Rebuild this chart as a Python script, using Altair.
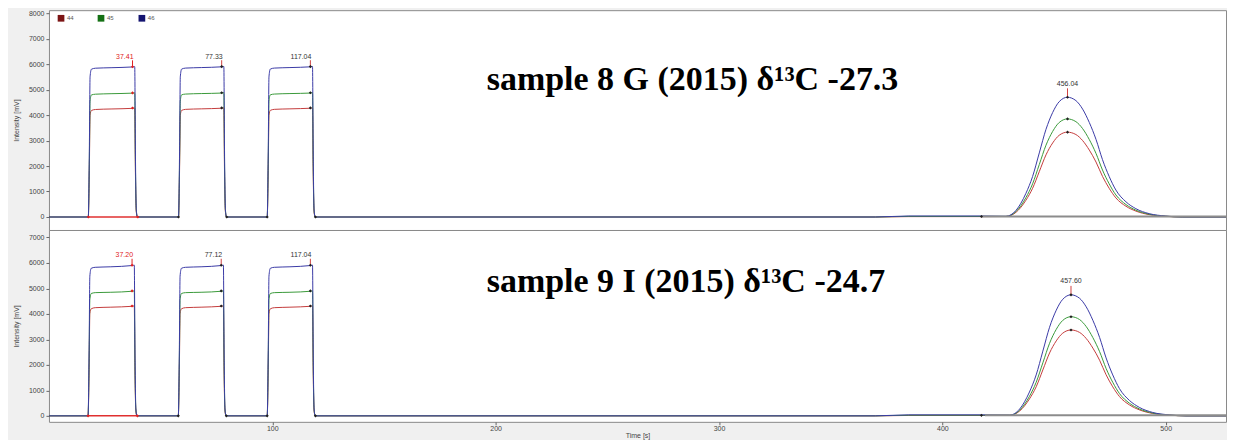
import altair as alt
import pandas as pd

TRACES = ["44", "45", "46"]
LINE_COLORS = ["#c43c3c", "#3a9a3a", "#3a3aa6"]
LEGEND_COLORS = ["#7b1414", "#147014", "#141470"]

# ---------------- top panel: sample 8 G ----------------
top_time = [0.0,
    17.6, 18.1, 18.4, 19.0, 20.8, 27.8, 37.6, 38.4, 38.7, 39.1, 39.6,
    58.0, 58.5, 58.8, 59.4, 61.2, 68.2, 77.5, 78.3, 78.6, 79.0, 79.5,
    97.7, 98.2, 98.5, 99.1, 100.9, 107.9, 117.2, 118.0, 118.3, 118.7, 119.2,
    370.0, 385.0, 417.0,
    428.5, 433.0, 437.4, 440.4, 443.4, 446.4, 449.4, 452.3, 456.0, 459.8, 462.8,
    465.8, 468.8, 471.7, 474.7, 477.7, 482.2, 486.6, 492.6, 500.0, 507.5,
    527.0]
top_44 = [0,
    0, 2000, 4000, 4180, 4220, 4240, 4265, 4280, 1800, 200, 0,
    0, 2000, 4000, 4185, 4225, 4245, 4270, 4285, 1800, 200, 0,
    0, 2000, 4000, 4185, 4225, 4245, 4270, 4285, 1800, 200, 0,
    0, 15, 15,
    20, 186, 656, 1126, 1782, 2438, 2907, 3207, 3330, 3237, 3000,
    2627, 2158, 1595, 1126, 749, 423, 233, 93, 27, 0,
    0]
top_45 = [0,
    0, 2300, 4550, 4790, 4820, 4840, 4862, 4875, 2100, 250, 0,
    0, 2300, 4550, 4795, 4825, 4845, 4865, 4880, 2100, 250, 0,
    0, 2300, 4550, 4795, 4825, 4845, 4865, 4880, 2100, 250, 0,
    0, 25, 25,
    23, 216, 758, 1301, 2060, 2818, 3361, 3708, 3850, 3742, 3469,
    3038, 2495, 1844, 1301, 866, 489, 270, 108, 31, 0,
    0]
top_46 = [0,
    0, 2800, 5500, 5800, 5840, 5860, 5890, 5900, 2600, 300, 0,
    0, 2800, 5500, 5805, 5845, 5865, 5895, 5905, 2600, 300, 0,
    0, 2800, 5500, 5805, 5845, 5865, 5895, 5905, 2600, 300, 0,
    0, 40, 40,
    28, 263, 926, 1589, 2515, 3440, 4103, 4526, 4700, 4568, 4235,
    3708, 3046, 2251, 1589, 1058, 597, 329, 132, 38, 0,
    0]
top_peak_time = [37.41, 77.33, 117.04, 456.04]
top_peak_top = [5900, 5905, 5905, 4700]
top_peak_label = ["37.41", "77.33", "117.04", "456.04"]
top_dot_time = [37.41, 37.41, 37.41, 77.33, 77.33, 77.33, 117.04, 117.04, 117.04,
                456.04, 456.04, 456.04, 17.6, 39.8, 58.0, 79.6, 97.7, 119.3, 417.5]
top_dot_value = [4278, 4872, 5898, 4282, 4876, 5903, 4282, 4876, 5903,
                 3330, 3850, 4700, 0, 0, 0, 0, 0, 0, 20]
top_title = "sample 8 G (2015) δ¹³C -27.3"

# ---------------- bottom panel: sample 9 I ----------------
bot_time = [0.0,
    17.5, 18.0, 18.3, 18.9, 20.7, 27.7, 37.4, 38.2, 38.5, 38.9, 39.4,
    57.9, 58.4, 58.7, 59.3, 61.1, 68.1, 77.3, 78.1, 78.4, 78.8, 79.3,
    97.7, 98.2, 98.5, 99.1, 100.9, 107.9, 117.2, 118.0, 118.3, 118.7, 119.2,
    370.0, 385.0, 417.0,
    430.1, 434.6, 439.0, 442.0, 445.0, 448.0, 451.0, 453.9, 457.6, 461.4, 464.4,
    467.4, 470.4, 473.3, 476.3, 479.3, 483.8, 488.2, 494.2, 501.6, 509.1,
    527.0]
bot_44 = [0,
    0, 2000, 4010, 4200, 4245, 4265, 4300, 4315, 1800, 200, 0,
    0, 2000, 4010, 4200, 4245, 4265, 4300, 4315, 1800, 200, 0,
    0, 2000, 4010, 4200, 4245, 4265, 4300, 4315, 1800, 200, 0,
    0, 15, 15,
    20, 189, 664, 1139, 1803, 2467, 2942, 3245, 3370, 3276, 3036,
    2659, 2184, 1614, 1139, 758, 428, 236, 94, 27, 0,
    0]
bot_45 = [0,
    0, 2300, 4560, 4800, 4835, 4850, 4890, 4905, 2100, 250, 0,
    0, 2300, 4560, 4800, 4835, 4850, 4890, 4905, 2100, 250, 0,
    0, 2300, 4560, 4800, 4835, 4850, 4890, 4905, 2100, 250, 0,
    0, 25, 25,
    23, 218, 766, 1315, 2081, 2847, 3396, 3746, 3890, 3781, 3505,
    3069, 2521, 1863, 1315, 875, 494, 272, 109, 31, 0,
    0]
bot_46 = [0,
    0, 2800, 5480, 5790, 5830, 5850, 5900, 5915, 2600, 300, 0,
    0, 2800, 5480, 5790, 5830, 5850, 5900, 5915, 2600, 300, 0,
    0, 2800, 5480, 5790, 5830, 5850, 5900, 5915, 2600, 300, 0,
    0, 40, 40,
    29, 266, 936, 1606, 2541, 3477, 4147, 4574, 4750, 4617, 4280,
    3748, 3078, 2275, 1606, 1069, 603, 333, 133, 38, 0,
    0]
bot_peak_time = [37.20, 77.12, 117.04, 457.60]
bot_peak_top = [5915, 5915, 5915, 4750]
bot_peak_label = ["37.20", "77.12", "117.04", "457.60"]
bot_dot_time = [37.20, 37.20, 37.20, 77.12, 77.12, 77.12, 117.04, 117.04, 117.04,
                457.6, 457.6, 457.6, 17.5, 39.6, 57.9, 79.4, 97.7, 119.3, 417.5]
bot_dot_value = [4312, 4902, 5912, 4312, 4902, 5912, 4312, 4902, 5912,
                 3370, 3890, 4750, 0, 0, 0, 0, 0, 0, 20]
bot_title = "sample 9 I (2015) δ¹³C -24.7"

X_DOMAIN = [0, 527]
X_TICKS = [100, 200, 300, 400, 500]
LABEL_OFFSETS = [300, 300, 300, 450]
RULE_LENGTHS = [250, 250, 250, 350]


def make_panel(time, v44, v45, v46, peak_time, peak_top, peak_label,
               dot_time, dot_value, title, ydom, height, yticks,
               sample_off, title_v, show_x, legend):
    n = len(time)
    df = pd.DataFrame({
        "t": time * 3,
        "v": v44 + v45 + v46,
        "trace": [TRACES[0]] * n + [TRACES[1]] * n + [TRACES[2]] * n,
    })
    if show_x:
        xaxis = alt.Axis(values=X_TICKS, title="Time [s]", labelFontSize=7, format="d",
                         titleFontSize=7, titleFontWeight="normal", tickSize=3,
                         labelPadding=0, titlePadding=0, grid=False, domain=False,
                         labelColor="#444", titleColor="#444", tickColor="#666",
                         labelFont="Liberation Sans", titleFont="Liberation Sans")
    else:
        xaxis = None
    yaxis = alt.Axis(values=yticks, title="Intensity [mV]", labelFontSize=7, format="d",
                     labelOverlap=False, labelBound=False,
                     titleFontSize=7, titleFontWeight="normal", tickSize=3,
                     labelPadding=2, titlePadding=9, grid=False, domain=False,
                     labelColor="#444", titleColor="#444", tickColor="#666",
                     labelFont="Liberation Sans", titleFont="Liberation Sans")
    xs = alt.Scale(domain=X_DOMAIN, nice=False, zero=False)
    ys = alt.Scale(domain=ydom, nice=False, zero=False)
    X = alt.X("t:Q", scale=xs, axis=xaxis)
    Y = alt.Y("v:Q", scale=ys, axis=yaxis)
    YL = alt.Y("lv:Q", scale=ys, axis=yaxis)

    lines = alt.Chart(df).mark_line(strokeWidth=1, clip=True, interpolate="monotone").encode(
        x=X, y=Y,
        color=alt.Color("trace:N", scale=alt.Scale(domain=TRACES, range=LINE_COLORS), legend=None),
    )

    # integration background of sample peak and reference-peak baseline
    bg = pd.DataFrame({"t": [peak_time[3] - 38.5, peak_time[0] - 19.9],
                       "t2": [527, peak_time[0] + 2.4],
                       "v": [20, 0],
                       "c": ["#8c8c8c", "#e03030"],
                       "w": [2.0, 1.5]})
    bgl = alt.Chart(bg).mark_rule(clip=True).encode(
        x=X, x2="t2:Q", y=Y,
        color=alt.Color("c:N", scale=None),
        strokeWidth=alt.StrokeWidth("w:Q", scale=None),
    )

    mk = pd.DataFrame({"t": peak_time, "v": peak_top,
                       "v2": [p + r for p, r in zip(peak_top, RULE_LENGTHS)],
                       "lab": peak_label,
                       "lv": [p + o for p, o in zip(peak_top, LABEL_OFFSETS)],
                       "c": ["#e02020", "#d04040", "#d04040", "#d04040"],
                       "tc": ["#e02020", "#333333", "#333333", "#333333"],
                       "al": ["right", "right", "right", "center"]})
    rules = alt.Chart(mk).mark_rule(strokeWidth=1).encode(
        x=X, y=Y, y2="v2:Q", color=alt.Color("c:N", scale=None))
    labs_r = alt.Chart(mk[mk["al"] == "right"]).mark_text(
        fontSize=7, font="Liberation Sans", align="right", baseline="alphabetic", dx=1
    ).encode(x=X, y=YL, text="lab:N", color=alt.Color("tc:N", scale=None))
    labs_c = alt.Chart(mk[mk["al"] == "center"]).mark_text(
        fontSize=7, font="Liberation Sans", align="center", baseline="alphabetic"
    ).encode(x=X, y=YL, text="lab:N", color=alt.Color("tc:N", scale=None))

    dcol = ["#e02020"] * 3 + ["#202020"] * 9 + ["#e02020", "#e02020"] + ["#202020"] * 5
    dots = alt.Chart(pd.DataFrame({"t": dot_time, "v": dot_value, "c": dcol})).mark_point(
        filled=True, size=10, opacity=1, shape="diamond"
    ).encode(x=X, y=Y, color=alt.Color("c:N", scale=None))

    st = alt.Chart(pd.DataFrame({"t": [sample_off], "v": [title_v], "s": [title]})).mark_text(
        fontSize=34, font="Liberation Serif", fontWeight="bold", align="left",
        baseline="alphabetic", color="#000000"
    ).encode(x=X, y=Y, text="s:N")

    layers = [lines, bgl, rules, dots, labs_r, labs_c, st]
    if legend:
        lg = pd.DataFrame({"t": [5.4, 23.3, 41.6], "v": [7800, 7800, 7800],
                           "lab": TRACES, "c": LEGEND_COLORS})
        sq = alt.Chart(lg).mark_square(size=45, opacity=1, filled=True).encode(
            x=X, y=Y, color=alt.Color("c:N", scale=None))
        lt = alt.Chart(lg).mark_text(fontSize=6, font="Liberation Sans", align="left",
                                     baseline="middle", dx=6, color="#555").encode(
            x=X, y=Y, text="lab:N")
        layers += [sq, lt]
    return alt.layer(*layers).properties(width=1178, height=height)


top = make_panel(top_time, top_44, top_45, top_46, top_peak_time, top_peak_top,
                 top_peak_label, top_dot_time, top_dot_value, top_title,
                 [-510, 8118], 220, [0, 1000, 2000, 3000, 4000, 5000, 6000, 7000, 8000],
                 196, 5000, False, True)
bottom = make_panel(bot_time, bot_44, bot_45, bot_46, bot_peak_time, bot_peak_top,
                    bot_peak_label, bot_dot_time, bot_dot_value, bot_title,
                    [-235, 7294], 192, [0, 1000, 2000, 3000, 4000, 5000, 6000, 7000],
                    196, 4850, True, False)

chart = alt.vconcat(top, bottom, spacing=0, bounds="flush").properties(
    padding={"left": 3, "top": 0, "right": 0, "bottom": 0},
    background="#f0f0f0",
).configure_view(fill="#ffffff", stroke="#8a8a8a", strokeWidth=1).configure_concat(
    spacing=0
).configure_axis(labelOverlap=False)

chart.save("out.html", embed_options={"renderer": "svg", "actions": False})
